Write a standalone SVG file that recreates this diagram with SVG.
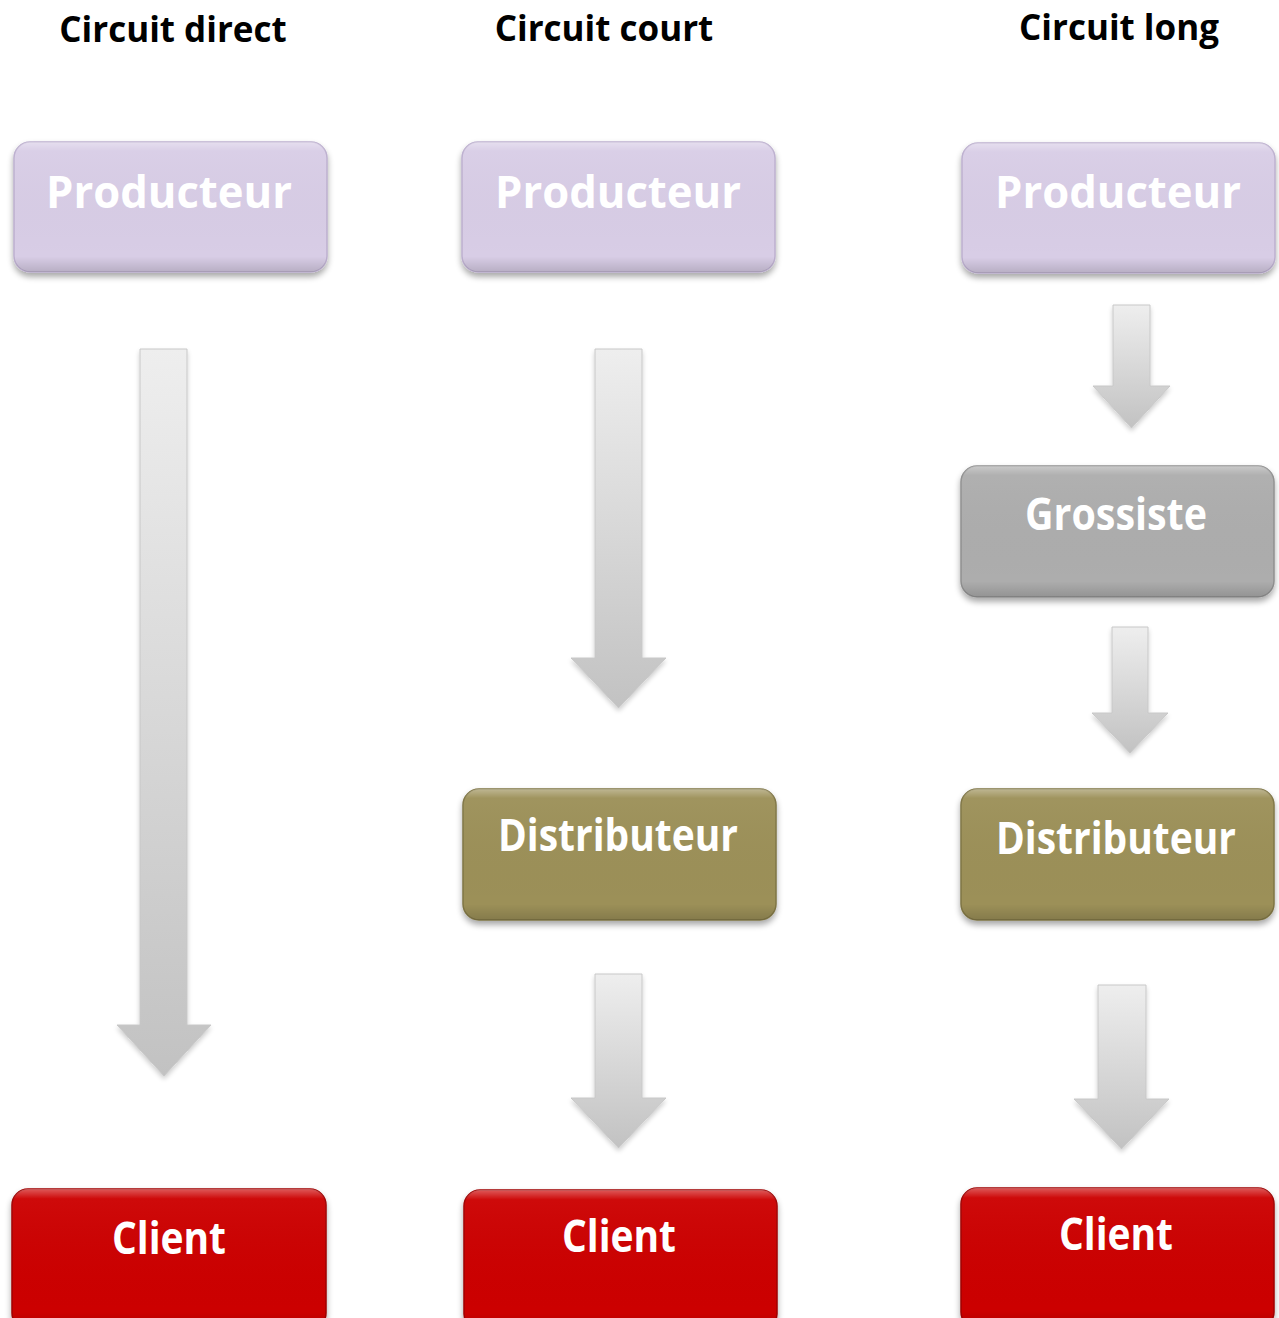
<svg xmlns="http://www.w3.org/2000/svg" width="1279" height="1318" viewBox="0 0 1279 1318">
  <style>
    .title { font-family: "Open Sans", "Liberation Sans", sans-serif; font-weight: 700; font-size: 35px; fill: #000; text-anchor: middle; }
    .label { font-family: "Open Sans", "Liberation Sans", sans-serif; font-weight: 700; font-size: 44px; fill: #fff; text-anchor: middle; }
    .box { stroke-width: 1.5; filter: url(#shadow); }
    .prod { fill: #d8cde6; stroke: #bdb0cf; }
    .dist { fill: #9c9058; stroke: #7f7545; }
    .gros { fill: #adadad; stroke: #909090; }
    .cli { fill: #cc0000; stroke: #a00000; }
    .gloss { fill: url(#gloss); pointer-events: none; }
    .arrow { fill: url(#arrowFill); stroke: #c8c8c8; stroke-width: 1; filter: url(#ashadow); }
  </style>
  <defs>
    <filter id="shadow" x="-10%" y="-10%" width="120%" height="130%">
      <feGaussianBlur in="SourceAlpha" stdDeviation="3"/>
      <feOffset dy="4" result="b"/>
      <feComponentTransfer><feFuncA type="linear" slope="0.35"/></feComponentTransfer>
      <feMerge><feMergeNode/><feMergeNode in="SourceGraphic"/></feMerge>
    </filter>
    <filter id="ashadow" x="-20%" y="-5%" width="140%" height="115%">
      <feGaussianBlur in="SourceAlpha" stdDeviation="2.5"/>
      <feOffset dy="3"/>
      <feComponentTransfer><feFuncA type="linear" slope="0.2"/></feComponentTransfer>
      <feMerge><feMergeNode/><feMergeNode in="SourceGraphic"/></feMerge>
    </filter>
    <linearGradient id="gloss" x1="0" y1="0" x2="0" y2="1">
      <stop offset="0" stop-color="#fff" stop-opacity="0.35"/>
      <stop offset="0.07" stop-color="#fff" stop-opacity="0.04"/>
      <stop offset="0.88" stop-color="#000" stop-opacity="0"/>
      <stop offset="1" stop-color="#000" stop-opacity="0.15"/>
    </linearGradient>
    <linearGradient id="arrowFill" x1="0" y1="0" x2="0" y2="1">
      <stop offset="0" stop-color="#eeeeee"/>
      <stop offset="1" stop-color="#c2c2c2"/>
    </linearGradient>
  </defs>

  <!-- column headings -->
  <g id="titles">
    <text class="title" x="173" y="42">Circuit direct</text>
    <text class="title" x="604" y="41">Circuit court</text>
    <text class="title" x="1119" y="40">Circuit long</text>
  </g>

  <!-- flow arrows -->
  <g id="connectors">
    <path class="arrow" d="M140,349 H187 V1025 H211 L164,1076 L117,1025 H140 Z"/>
    <path class="arrow" d="M595,349 H642 V658 H666 L618.5,708 L571,658 H595 Z"/>
    <path class="arrow" d="M595,974 H642 V1098 H666 L618.5,1148 L571,1098 H595 Z"/>
    <path class="arrow" d="M1113,305 H1150 V386 H1170 L1131.5,428 L1093,386 H1113 Z"/>
    <path class="arrow" d="M1112,627 H1148 V713 H1168 L1130,753 L1092,713 H1112 Z"/>
    <path class="arrow" d="M1098,985 H1146 V1099 H1169 L1121.5,1149 L1074,1099 H1098 Z"/>
  </g>

  <!-- circuit direct -->
  <g id="prod-direct">
    <rect class="box prod" x="14" y="142" width="313" height="130" rx="16"/>
    <rect class="gloss" x="14" y="142" width="313" height="130" rx="16"/>
    <text class="label" x="169" y="208" textLength="246" lengthAdjust="spacingAndGlyphs">Producteur</text>
  </g>
  <g id="client-direct">
    <rect class="box cli" x="12" y="1189" width="314" height="140" rx="16"/>
    <rect class="gloss" x="12" y="1189" width="314" height="140" rx="16"/>
    <text class="label" x="169" y="1254" textLength="114" lengthAdjust="spacingAndGlyphs">Client</text>
  </g>

  <!-- circuit court -->
  <g id="prod-court">
    <rect class="box prod" x="462" y="142" width="313" height="130" rx="16"/>
    <rect class="gloss" x="462" y="142" width="313" height="130" rx="16"/>
    <text class="label" x="618" y="208" textLength="246" lengthAdjust="spacingAndGlyphs">Producteur</text>
  </g>
  <g id="dist-court">
    <rect class="box dist" x="463" y="789" width="313" height="131" rx="16"/>
    <rect class="gloss" x="463" y="789" width="313" height="131" rx="16"/>
    <text class="label" x="618" y="851" textLength="240" lengthAdjust="spacingAndGlyphs">Distributeur</text>
  </g>
  <g id="client-court">
    <rect class="box cli" x="464" y="1190" width="313" height="140" rx="16"/>
    <rect class="gloss" x="464" y="1190" width="313" height="140" rx="16"/>
    <text class="label" x="619" y="1252" textLength="114" lengthAdjust="spacingAndGlyphs">Client</text>
  </g>

  <!-- circuit long -->
  <g id="prod-long">
    <rect class="box prod" x="962" y="143" width="313" height="130" rx="16"/>
    <rect class="gloss" x="962" y="143" width="313" height="130" rx="16"/>
    <text class="label" x="1118" y="208" textLength="246" lengthAdjust="spacingAndGlyphs">Producteur</text>
  </g>
  <g id="gros-long">
    <rect class="box gros" x="961" y="466" width="313" height="131" rx="16"/>
    <rect class="gloss" x="961" y="466" width="313" height="131" rx="16"/>
    <text class="label" x="1116" y="530" textLength="182" lengthAdjust="spacingAndGlyphs">Grossiste</text>
  </g>
  <g id="dist-long">
    <rect class="box dist" x="961" y="789" width="313" height="131" rx="16"/>
    <rect class="gloss" x="961" y="789" width="313" height="131" rx="16"/>
    <text class="label" x="1116" y="854" textLength="240" lengthAdjust="spacingAndGlyphs">Distributeur</text>
  </g>
  <g id="client-long">
    <rect class="box cli" x="961" y="1188" width="313" height="140" rx="16"/>
    <rect class="gloss" x="961" y="1188" width="313" height="140" rx="16"/>
    <text class="label" x="1116" y="1250" textLength="114" lengthAdjust="spacingAndGlyphs">Client</text>
  </g>
</svg>
